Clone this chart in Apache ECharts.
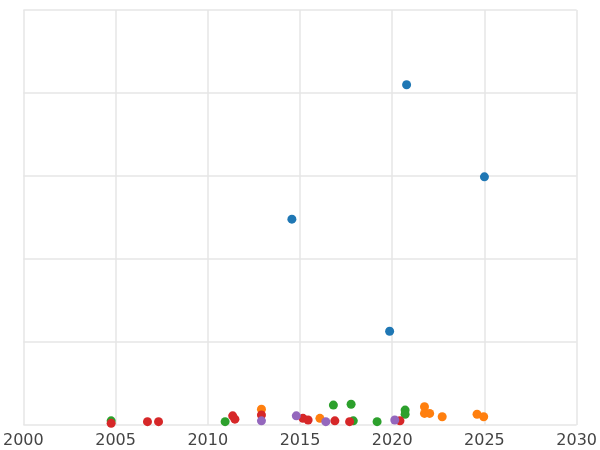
<!DOCTYPE html>
<html>
<head>
<meta charset="utf-8">
<script src="https://cdn.jsdelivr.net/npm/echarts@6/dist/echarts.min.js"></script>
<style>html,body{margin:0;padding:0;background:#fff}#main{width:600px;height:450px}</style>
</head>
<body>
<div id="main"></div>
<script>
// [year, value] pairs per series
const blueData = [[2020.78, 4.10], [2025.0, 2.99], [2014.56, 2.48], [2019.86, 1.13]];
const orangeData = [[2012.91, 0.19], [2016.08, 0.08], [2021.75, 0.22], [2021.75, 0.14], [2022.03, 0.14], [2022.71, 0.10], [2024.6, 0.13], [2024.96, 0.10]];
const greenData = [[2004.76, 0.05], [2010.94, 0.04], [2016.81, 0.24], [2017.77, 0.25], [2017.89, 0.05], [2019.18, 0.04], [2020.7, 0.18], [2020.7, 0.13]];
const redData = [[2004.76, 0.02], [2006.73, 0.04], [2007.33, 0.04], [2011.35, 0.11], [2011.47, 0.07], [2012.91, 0.12], [2015.16, 0.08], [2015.44, 0.06], [2016.89, 0.05], [2017.69, 0.04], [2020.42, 0.05]];
const purpleData = [[2012.91, 0.05], [2014.8, 0.11], [2016.4, 0.04], [2020.14, 0.06]];

const chart = echarts.init(document.getElementById('main'));
const mk = (data, color) => ({
  type: 'scatter', data: data, symbolSize: 9,
  itemStyle: { color: color, opacity: 1 }
});
chart.setOption({
  animation: false,
  // axis runs 2000..2030 but the visible window is roughly 2002.8..2026.9
  grid: { left: -69, right: -77, top: 10, bottom: 25 },
  xAxis: {
    type: 'value', min: 2000, max: 2030, interval: 5,
    axisLine: { show: false }, axisTick: { show: false },
    axisLabel: {
      fontSize: 16, color: '#444', fontFamily: 'DejaVu Sans',
      formatter: v => String(v)
    },
    splitLine: { show: true, lineStyle: { color: '#e6e6e6', width: 1.5 } }
  },
  yAxis: {
    type: 'value', min: 0, max: 5, interval: 1,
    axisLine: { show: false }, axisTick: { show: false },
    axisLabel: { show: false },
    splitLine: { show: true, lineStyle: { color: '#e6e6e6', width: 1.5 } }
  },
  series: [
    mk(blueData, '#1f77b4'),
    mk(orangeData, '#ff7f0e'),
    mk(greenData, '#2ca02c'),
    mk(redData, '#d62728'),
    mk(purpleData, '#9467bd')
  ]
});
</script>
</body>
</html>
